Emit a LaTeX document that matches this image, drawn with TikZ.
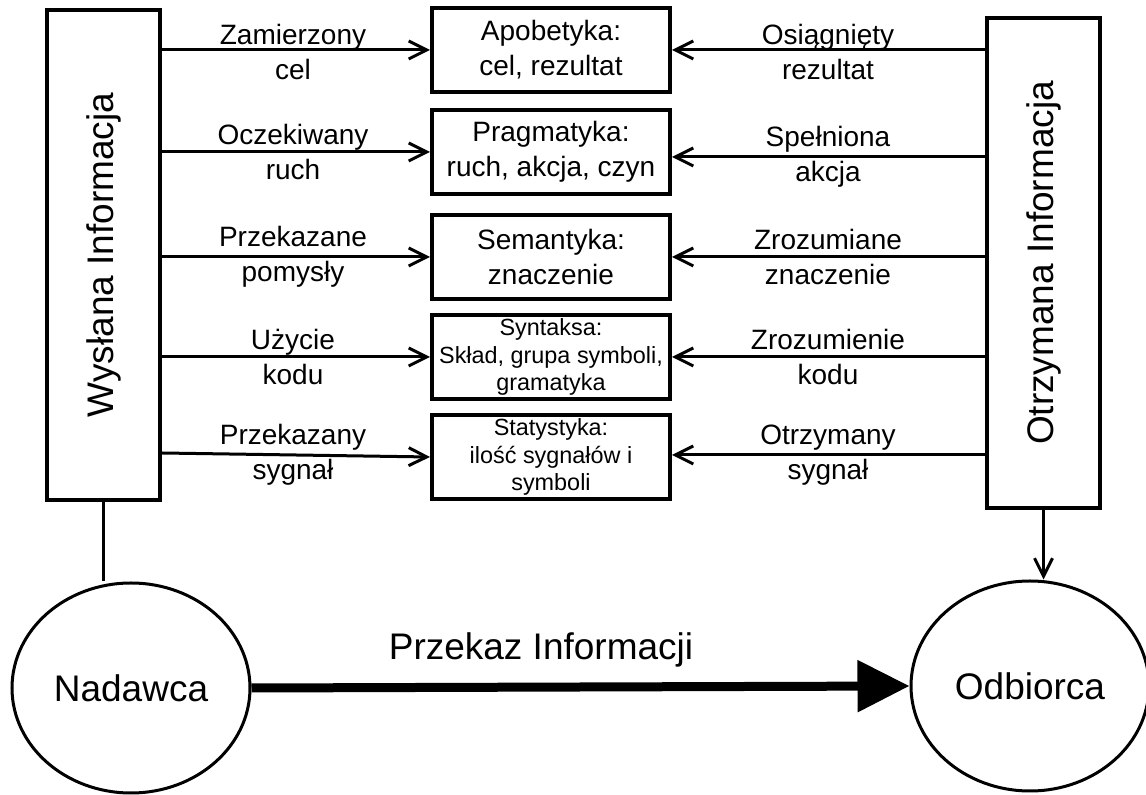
\documentclass[tikz,border=0pt]{standalone}
\usepackage{fontspec}
\setmainfont{Liberation Sans}
\usetikzlibrary{arrows.meta,shapes.geometric}
\newcommand\duzy{\fontsize{18.5}{22}\selectfont}
\tikzset{
  pole/.style={draw,line width=2pt,minimum width=56.5pt,minimum height=245pt,inner sep=0pt},
  poziom/.style={draw,line width=2pt,minimum width=119pt,minimum height=42pt,inner sep=0pt,align=center,font=\fontsize{14}{17.5}\selectfont},
  maly/.style={font=\fontsize{11.7}{13.8}\selectfont},
  opis/.style={align=center,font=\fontsize{14}{17.5}\selectfont},
  strz/.style={line width=1.5pt,-{Straight Barb[length=9pt,width=9pt]}},
  osoba/.style={draw,ellipse,line width=1.5pt,minimum width=119pt,minimum height=105pt,inner sep=0pt,font=\duzy}
}
\begin{document}
\begin{tikzpicture}[x=0.5pt,y=-0.5pt]
\useasboundingbox (0,0) rectangle (1146,795);
\node[pole,label={[rotate=90,font=\duzy]center:Wysłana Informacja}] (wys) at (103.5,255) {};
\node[pole,label={[rotate=90,font=\duzy]center:Otrzymana Informacja}] (otr) at (1043.5,263) {};

\node[poziom] (apo) at (551,50) {Apobetyka:\\cel, rezultat};
\node[poziom] (prag) at (551,152) {Pragmatyka:\\ruch, akcja, czyn};
\node[poziom] (sem) at (551,257) {Semantyka:\\znaczenie};
\node[poziom,maly] (syn) at (551,357) {Syntaksa:\\Skład, grupa symboli,\\gramatyka};
\node[poziom,maly] (stat) at (551,457) {Statystyka:\\ilość sygnałów i\\symboli};

\draw[strz] (wys.east |- apo.west) -- (apo.west);
\draw[strz] (wys.east |- prag.west) -- (prag.west);
\draw[strz] (wys.east |- sem.west) -- (sem.west);
\draw[strz] (wys.east |- syn.west) -- (syn.west);
\draw[strz] (wys.east |- 0,453) -- (stat.west);
\draw[strz] (otr.west |- apo.east) -- (apo.east);
\draw[strz] (otr.west |- 0,157) -- (prag.east |- 0,157);
\draw[strz] (otr.west |- sem.east) -- (sem.east);
\draw[strz] (otr.west |- syn.east) -- (syn.east);
\draw[strz] (otr.west |- 0,455) -- (stat.east |- 0,455);

\node[opis] (zam) at (293,52) {Zamierzony\\cel};
\node[opis] (ocz) at (293,152) {Oczekiwany\\ruch};
\node[opis] (pom) at (293,257) {Przekazane\\pomysły};
\node[opis] (uzy) at (293,357) {Użycie\\kodu};
\node[opis] (syg) at (293,455) {Przekazany\\sygnał};
\node[opis] (osi) at (828,52) {Osiągnięty\\rezultat};
\node[opis] (spe) at (828,157) {Spełniona\\akcja};
\node[opis] (zro) at (828,257) {Zrozumiane\\znaczenie};
\node[opis] (kod) at (828,357) {Zrozumienie\\kodu};
\node[opis] (otrs) at (828,455) {Otrzymany\\sygnał};

\node[osoba] (nad) at (131,688) {Nadawca};
\node[osoba] (odb) at (1030,686) {Odbiorca};
\draw[line width=1.5pt] (wys.south) -- (wys.south |- nad.north);
\draw[strz] (otr.south) -- (otr.south |- odb.north);
\draw[line width=4.5pt,-{Triangle[length=26pt,width=25pt]}] (nad.east) -- (odb.west);
\node[font=\duzy] (prz) at (541,650) {Przekaz Informacji};
\end{tikzpicture}
\end{document}
